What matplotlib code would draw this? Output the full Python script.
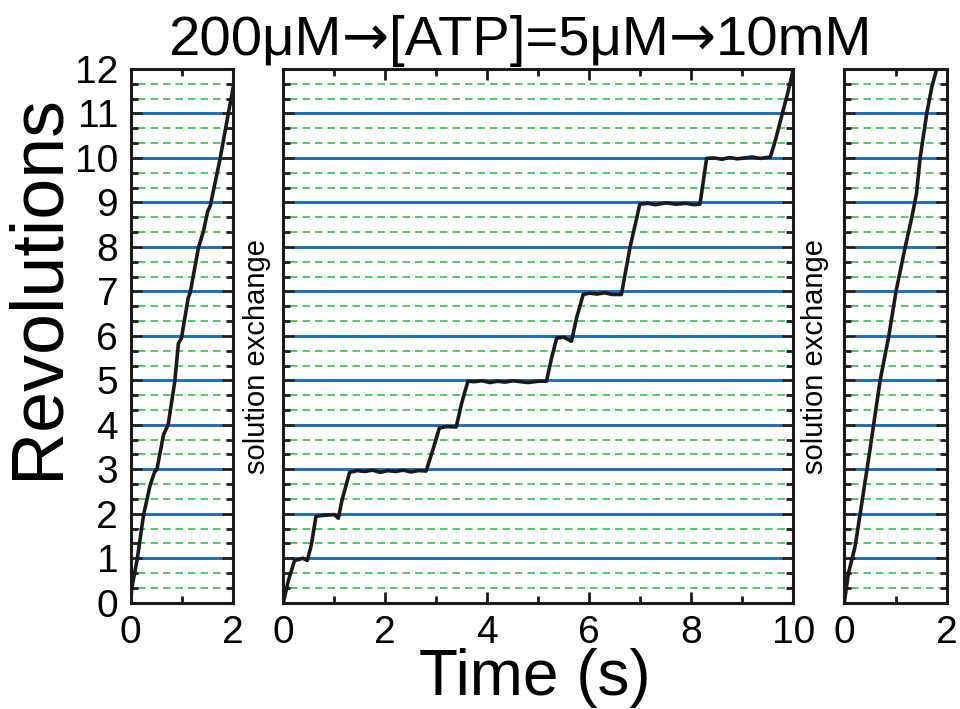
import numpy as np
import matplotlib
matplotlib.use("Agg")
import matplotlib.pyplot as plt
from matplotlib.ticker import MultipleLocator

plt.rcParams['font.family'] = ['Liberation Sans', 'DejaVu Sans']

# traces (time s, revolutions)
t_left = [0, 0.02, 0.13, 0.25, 0.38, 0.47, 0.51, 0.64, 0.73, 0.86, 0.93, 0.99,
          1.12, 1.16, 1.32, 1.42, 1.50, 1.55, 1.74, 1.90, 2.0]
r_left = [0, 0.32, 1.0, 1.97, 2.65, 2.95, 2.99, 3.78, 4.0, 4.98, 5.83, 5.95,
          6.85, 6.97, 7.98, 8.36, 8.8, 8.92, 9.97, 10.98, 11.6]

t_mid = [0, 0.1, 0.22, 0.3, 0.38, 0.47, 0.55, 0.64, 0.75, 0.85, 1.0, 1.08, 1.15,
         1.30, 1.45, 1.6, 1.75, 1.9, 2.05, 2.2, 2.35, 2.5, 2.65, 2.8, 2.95,
         3.06, 3.2, 3.39, 3.5, 3.62, 3.75, 3.9, 4.05, 4.2, 4.35, 4.5, 4.65, 4.8,
         5.0, 5.16, 5.26, 5.36, 5.5, 5.65, 5.75, 5.88, 6.0, 6.15, 6.3, 6.45,
         6.63, 6.72, 6.8, 6.9, 6.99, 7.15, 7.3, 7.5, 7.7, 7.9, 8.05, 8.17, 8.3,
         8.45, 8.6, 8.75, 8.9, 9.05, 9.2, 9.35, 9.55, 9.65, 9.78, 9.9, 10.0]
r_mid = [0, 0.5, 0.95, 0.97, 1.0, 0.95, 1.3, 1.94, 1.96, 1.97, 1.98, 1.9, 2.3,
         2.93, 2.97, 2.95, 2.98, 2.93, 2.97, 2.95, 2.98, 2.94, 2.97, 2.96, 3.5,
         3.93, 3.96, 3.95, 4.5, 4.98, 4.97, 4.99, 4.95, 4.98, 4.96, 4.99, 4.97,
         4.95, 4.98, 4.98, 5.5, 5.95, 5.97, 5.88, 6.4, 6.93, 6.96, 6.94, 6.97,
         6.93, 6.93, 7.5, 8.0, 8.5, 8.96, 8.98, 8.95, 8.99, 8.96, 8.98, 8.95,
         8.96, 9.99, 10.0, 9.97, 10.01, 9.98, 10.0, 10.02, 9.99, 10.02, 10.4,
         10.98, 11.5, 12.0]

t_right = [0, 0.08, 0.21, 0.31, 0.44, 0.50, 0.70, 0.87, 1.01, 1.19, 1.32, 1.41,
           1.48, 1.61, 1.71, 1.80, 1.85]
r_right = [0, 0.66, 1.26, 2.0, 2.98, 3.43, 5.0, 6.0, 7.0, 8.0, 8.67, 9.2,
           9.99, 11.0, 11.6, 11.98, 12.2]

title_parts = ['200\u03bcM', '\u2192', '[ATP]=5\u03bcM', '\u2192', '10mM']

W, H = 960, 709
fig = plt.figure(figsize=(W / 100, H / 100), dpi=100)

# axes boxes in pixels: (left, right)
top_px, bot_px = 69, 602.7
boxes = [(130.7, 233.3), (283.3, 793.3), (844.3, 946.7)]
xmaxes = [2, 10, 2]
traces = [(t_left, r_left), (t_mid, r_mid), (t_right, r_right)]

blue = '#1a6fc0'
green = '#33c14a'

for i, ((x0, x1), xm, (tt, rr)) in enumerate(zip(boxes, xmaxes, traces)):
    ax = fig.add_axes([x0 / W, 1 - bot_px / H, (x1 - x0) / W, (bot_px - top_px) / H])
    ax.set_xlim(0, xm)
    ax.set_ylim(0, 12)
    wpx = x1 - x0
    tr = ax.get_yaxis_transform()
    for k in range(1, 12):
        ax.plot([11 / wpx, 1 - 11 / wpx], [k, k], transform=tr, color=blue, lw=2.1, zorder=1)
    for k in range(12):
        for f in (1 / 3, 2 / 3):
            ax.plot([7 / wpx, 1 - 7 / wpx], [k + f, k + f], transform=tr, color=green,
                    lw=1.2, ls=(0, (4.5, 3)), zorder=1)
    ax.plot(tt, rr, color='#1a1a1a', lw=2.6, zorder=3, clip_on=True)

    ax.yaxis.set_major_locator(MultipleLocator(1))
    ax.yaxis.set_minor_locator(MultipleLocator(1 / 3))
    ax.xaxis.set_major_locator(MultipleLocator(2))
    ax.xaxis.set_minor_locator(MultipleLocator(1))
    ax.tick_params(which='both', direction='in', top=True, right=True, width=2.0,
                   labelsize=28, pad=9, color='#1a1a1a')
    ax.tick_params(which='major', length=8)
    ax.tick_params(which='minor', length=5)
    if i != 0:
        ax.tick_params(labelleft=False)
    for s in ax.spines.values():
        s.set_linewidth(2.2)
        s.set_color('#1a1a1a')

# title built from pieces so the arrows come from DejaVu Sans (wider glyph)
renderer = fig.canvas.get_renderer()
pieces = []
for p in title_parts:
    fam = ['DejaVu Sans'] if p == '\u2192' else ['Liberation Sans']
    t = fig.text(0, 1 - 55 / H, p, fontsize=40.5, family=fam, ha='left', va='baseline')
    pieces.append(t)
widths = [t.get_window_extent(renderer).width for t in pieces]
x = 520 - sum(widths) / 2
for t, w in zip(pieces, widths):
    t.set_x(x / W)
    x += w

fig.text(38 / W, 1 - 287 / H, 'Revolutions', fontsize=53, rotation=90,
         ha='center', va='center')
fig.text(535 / W, 1 - 695 / H, 'Time (s)', fontsize=46, ha='center', va='baseline')
for xp in (257, 815):
    fig.text(xp / W, 1 - 357 / H, 'solution exchange', fontsize=21, rotation=90,
             ha='center', va='center')

fig.savefig('out.png', dpi=100)
